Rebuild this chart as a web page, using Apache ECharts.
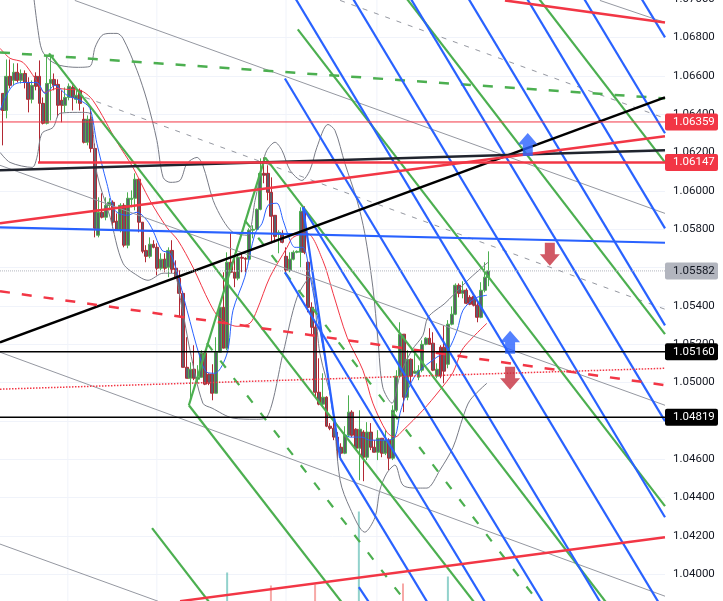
<!DOCTYPE html>
<html><head><meta charset="utf-8">
<style>html,body{margin:0;padding:0;background:#fff}#c{width:723px;height:601px}</style>
<script src="https://cdn.jsdelivr.net/npm/echarts@6/dist/echarts.min.js"></script>
</head><body><div id="c"></div>
<script>
// Candles: open, close, low, high, one row per bar
const candles = [
[1.06508,1.06419,1.06237,1.06508],[1.06419,1.06597,1.06378,1.06685],[1.06597,1.06550,1.06534,1.06685],[1.06576,1.06618,1.06550,1.06665],
[1.06618,1.06576,1.06565,1.06665],[1.06576,1.06612,1.06560,1.06633],[1.06612,1.06565,1.06534,1.06628],[1.06565,1.06477,1.06409,1.06592],
[1.06477,1.06550,1.06456,1.06576],[1.06597,1.06545,1.06524,1.06618],[1.06597,1.06456,1.06148,1.06680],[1.06456,1.06352,1.06346,1.06487],
[1.06352,1.06560,1.06346,1.06706],[1.06560,1.06581,1.06367,1.06706],[1.06581,1.06550,1.06524,1.06612],[1.06555,1.06446,1.06383,1.06581],
[1.06472,1.06446,1.06357,1.06524],[1.06446,1.06487,1.06409,1.06539],[1.06487,1.06545,1.06472,1.06560],[1.06539,1.06487,1.06419,1.06550],
[1.06477,1.06498,1.06456,1.06524],[1.06524,1.06456,1.06419,1.06534],[1.06373,1.06253,1.06247,1.06435],[1.06253,1.06373,1.06237,1.06393],
[1.06373,1.06221,1.06200,1.06435],[1.06221,1.05804,1.05757,1.06247],[1.05768,1.05888,1.05757,1.05966],[1.05888,1.05862,1.05856,1.05987],
[1.05862,1.05924,1.05846,1.05966],[1.05924,1.05940,1.05898,1.05961],[1.05940,1.05836,1.05804,1.05950],[1.05841,1.05794,1.05794,1.05882],
[1.05794,1.05924,1.05783,1.05935],[1.05924,1.05716,1.05705,1.05935],[1.05716,1.05961,1.05700,1.05992],[1.05955,1.05961,1.05914,1.06002],
[1.05961,1.06060,1.05898,1.06091],[1.06060,1.05836,1.05783,1.06065],[1.05836,1.05684,1.05674,1.05836],[1.05689,1.05658,1.05627,1.05716],
[1.05658,1.05721,1.05648,1.05757],[1.05721,1.05705,1.05700,1.05742],[1.05705,1.05596,1.05559,1.05726],[1.05596,1.05643,1.05585,1.05674],
[1.05643,1.05596,1.05575,1.05674],[1.05601,1.05689,1.05549,1.05705],[1.05689,1.05590,1.05570,1.05742],[1.05596,1.05544,1.05544,1.05637],
[1.05544,1.05465,1.05340,1.05585],[1.05465,1.05079,1.05079,1.05476],[1.05079,1.05022,1.05022,1.05236],[1.05022,1.05069,1.04907,1.05105],
[1.05069,1.05022,1.05012,1.05194],[1.05017,1.05027,1.04996,1.05090],[1.05027,1.05153,1.05027,1.05168],[1.05153,1.04991,1.04986,1.05158],
[1.05043,1.04996,1.04986,1.05048],[1.05043,1.04944,1.04907,1.05095],[1.04944,1.05158,1.04944,1.05236],[1.05158,1.05392,1.05158,1.05403],
[1.05392,1.05179,1.05179,1.05575],[1.05179,1.05627,1.05168,1.05679],[1.05627,1.05575,1.05575,1.05783],[1.05575,1.05544,1.05497,1.05653],
[1.05544,1.05653,1.05533,1.05674],[1.05653,1.05648,1.05575,1.05674],[1.05648,1.05643,1.05575,1.05653],[1.05643,1.05794,1.05637,1.05804],
[1.05794,1.05799,1.05752,1.05820],[1.05799,1.05903,1.05794,1.05908],[1.05903,1.06091,1.05898,1.06169],[1.06091,1.06081,1.06039,1.06174],
[1.06091,1.05992,1.05950,1.06133],[1.05992,1.05867,1.05726,1.06070],[1.05872,1.05762,1.05731,1.05872],[1.05778,1.05783,1.05674,1.05794],
[1.05778,1.05731,1.05726,1.05794],[1.05658,1.05585,1.05575,1.05705],[1.05585,1.05643,1.05575,1.05679],[1.05643,1.05679,1.05637,1.05689],
[1.05679,1.05684,1.05674,1.05689],[1.05679,1.05893,1.05601,1.05914],[1.05893,1.05679,1.05669,1.05919],[1.05627,1.05392,1.05366,1.05637],
[1.05392,1.05288,1.05246,1.05418],[1.05288,1.04949,1.04923,1.05309],[1.04949,1.04887,1.04881,1.05126],[1.04887,1.04923,1.04871,1.05048],
[1.04923,1.04772,1.04767,1.04928],[1.04772,1.04761,1.04751,1.04788],[1.04761,1.04715,1.04699,1.04793],[1.04715,1.04647,1.04595,1.04741],
[1.04662,1.04631,1.04595,1.04683],[1.04631,1.04725,1.04626,1.04772],[1.04725,1.04845,1.04715,1.04933],[1.04845,1.04725,1.04715,1.04855],
[1.04756,1.04657,1.04647,1.04761],[1.04657,1.04756,1.04490,1.04855],[1.04741,1.04610,1.04485,1.04751],[1.04610,1.04741,1.04595,1.04793],
[1.04741,1.04662,1.04647,1.04788],[1.04662,1.04636,1.04636,1.04699],[1.04636,1.04709,1.04595,1.04751],[1.04709,1.04631,1.04610,1.04709],
[1.04631,1.04699,1.04621,1.04751],[1.04699,1.04605,1.04542,1.04709],[1.04605,1.04855,1.04595,1.04881],[1.04855,1.05033,1.04845,1.05064],
[1.05033,1.05252,1.05027,1.05314],[1.05252,1.04923,1.04845,1.05252],[1.04923,1.05121,1.04907,1.05168],[1.05121,1.05033,1.04986,1.05126],
[1.05048,1.05059,1.05048,1.05153],[1.05027,1.05064,1.05012,1.05090],[1.05064,1.05199,1.05053,1.05220],[1.05199,1.05231,1.05194,1.05236],
[1.05231,1.05199,1.05199,1.05283],[1.05205,1.05064,1.05059,1.05262],[1.05033,1.05069,1.05022,1.05100],[1.05184,1.05033,1.05022,1.05194],
[1.05184,1.05059,1.04996,1.05298],[1.05095,1.05304,1.05074,1.05325],[1.05304,1.05356,1.05298,1.05397],[1.05356,1.05507,1.05351,1.05517],
[1.05507,1.05465,1.05444,1.05517],[1.05465,1.05481,1.05439,1.05528],[1.05481,1.05413,1.05408,1.05491],[1.05444,1.05408,1.05403,1.05455],
[1.05450,1.05403,1.05397,1.05460],[1.05403,1.05340,1.05314,1.05418],[1.05340,1.05481,1.05335,1.05523],[1.05481,1.05549,1.05470,1.05627],
[1.05549,1.05582,1.05502,1.05684]];

// Indicator curves: [bar, price]
const bandUpper = [[8.2,1.0705],[9.6,1.06837],[10.7,1.06732],[12.9,1.0668],[15.6,1.06654],[20.2,1.06644],[23.7,1.06649],[25.1,1.06748],[27,1.06811],[29.2,1.06821],[31.1,1.06821],[32.7,1.06795],[36.5,1.06628],[39.2,1.06472],[41.9,1.06263],[43.6,1.0607],[45.5,1.06044],[48.2,1.06054],[50.1,1.06143],[52.8,1.06174],[54.4,1.06133],[57.2,1.0595],[59.9,1.05846],[62.6,1.05783],[66.4,1.05768],[68.6,1.0595],[70.7,1.06143],[71.8,1.06211],[74,1.06253],[75.9,1.06211],[78.1,1.06107],[81.3,1.06054],[83.5,1.06107],[85.4,1.06227],[88.4,1.06346],[90.3,1.06315],[93,1.06143],[96.3,1.0595],[98.4,1.05778],[100.6,1.05497],[102,1.0522],[103.3,1.04975],[105.8,1.04892],[108,1.05038],[111.2,1.05168],[114.2,1.05246],[115.6,1.0534],[120.2,1.05413],[122.4,1.05455],[127,1.05544],[131.9,1.05627]];
const bandLower = [[-0.7,1.062],[2,1.06148],[8,1.06122],[9.3,1.06174],[10.7,1.063],[13.7,1.06331],[15.6,1.06404],[21,1.06409],[23.7,1.06404],[25.6,1.06091],[29.2,1.05862],[32.7,1.05622],[37.3,1.05549],[39.5,1.05533],[43.6,1.0557],[46.3,1.0557],[48.7,1.05392],[50.9,1.05168],[54.4,1.04892],[56.9,1.04866],[62.6,1.04814],[68.6,1.04808],[71.8,1.04819],[76.2,1.05153],[80,1.05444],[83.5,1.05549],[86.2,1.05153],[89.5,1.04892],[91.7,1.0449],[94.4,1.04344],[98.4,1.04219],[101.2,1.04297],[102.5,1.04438],[104.4,1.04527],[106.6,1.04569],[108.8,1.04464],[112.9,1.04449],[115.3,1.04449],[118.8,1.04542],[122.4,1.04662],[125.1,1.04819],[127,1.04907],[131.6,1.04996]];
const maSlow = [[-0.7,1.06743],[2,1.06691],[5.5,1.0667],[8.8,1.06586],[11.5,1.06513],[14.8,1.06534],[17.5,1.06529],[21,1.06524],[24.5,1.06472],[31.1,1.06253],[35.4,1.06122],[40,1.0595],[44.6,1.05809],[47.6,1.05742],[51.7,1.05601],[56.3,1.05413],[59,1.05335],[63.7,1.05293],[67.2,1.05309],[69.1,1.05377],[72.6,1.05549],[77.3,1.05705],[78.9,1.05757],[82.7,1.05778],[87,1.05637],[89.8,1.05465],[93.6,1.05236],[97.9,1.05064],[100.6,1.04892],[104.4,1.04741],[106.6,1.04715],[108.8,1.04751],[114.2,1.04855],[118.8,1.0496],[122.4,1.05053],[124.8,1.05168],[127,1.0522],[131.6,1.05309]];
const maFast = [[-0.7,1.06419],[0.6,1.06482],[2.8,1.0655],[5.2,1.06565],[9.3,1.06565],[11.5,1.06508],[14.2,1.0655],[17.5,1.06498],[21,1.06472],[23.7,1.0643],[25.6,1.06247],[28.3,1.06039],[30.5,1.05898],[33.8,1.05872],[36.5,1.05888],[39.2,1.05846],[40.8,1.05794],[43.3,1.05689],[45.5,1.05674],[47.6,1.05559],[50.1,1.05377],[53.6,1.05132],[55.5,1.05053],[57.7,1.05048],[61,1.05153],[62.6,1.05377],[65.8,1.05549],[68.6,1.05778],[70.5,1.0583],[72.1,1.05924],[74.5,1.05935],[76.2,1.05846],[78.1,1.05742],[79.4,1.05705],[81.6,1.05705],[83.5,1.05559],[86.2,1.05272],[88.4,1.05038],[90.3,1.04803],[94.4,1.04715],[97.6,1.04715],[99.8,1.04699],[104.4,1.04699],[106.6,1.04715],[108,1.0484],[110.1,1.0496],[112.6,1.05048],[118,1.05132],[121,1.05168],[123.5,1.05272],[125.1,1.05377],[128.3,1.05439],[131.6,1.05455]];

// Drawn trend lines: [bar, price, bar, price]
const blueRays = [[172.1,1.0705,180,1.068],[156.5,1.0705,180,1.063],[141,1.0705,180,1.05804],[125.1,1.0705,180,1.05298],[109.4,1.0705,180,1.04798],[93.7,1.0705,180,1.04297],[78.1,1.0705,180,1.03797],[76.7,1.06586,164.1,1.038],[81.6,1.05914,148.5,1.038],[76.7,1.05575,132.8,1.038],[91.7,1.04605,117.1,1.038],[96.8,1.03932,101.4,1.038],[81.6,1.05914,91.7,1.04605],[-0.73,1.05809,180,1.05729]];
const greenRays = [[143.8,1.0705,180,1.06148],[107.9,1.0705,180,1.05252],[80.2,1.06842,180,1.04355],[71.3,1.06174,166.1,1.038],[12.6,1.06717,130.3,1.038],[50.6,1.04881,94.3,1.038],[40.6,1.0424,58.3,1.038],[50.6,1.04881,71.3,1.06174]];
const greenDashed = [[55.5,1.05205,111.8,1.038],[65.8,1.05846,147.8,1.038]];
const greenLongDashed = [[-0.73,1.06722,180,1.06482]];
const blackLine = [[-0.73,1.0521,180,1.06487]];
const darkLine = [[-0.73,1.06107,180,1.06211]];
const redLines = [[-0.73,1.0583,180,1.06284],[48.2,1.03859,180,1.04193],[136.5,1.06993,180,1.06878]];
const redDashed = [[-0.73,1.05476,180,1.04986]];
const redDotted = [[-0.73,1.04965,180,1.05074]];
const greyLines = [[-0.73,1.06133,180,1.04881],[-0.73,1.05158,180,1.03885],[-0.73,1.04157,42.2,1.03859],[19.6,1.06993,180,1.05882],[162.3,1.06993,180,1.06878]];
const greyDashed = [[22.4,1.06487,180,1.05382],[91.7,1.06993,180,1.06378]];

// Price levels with right-axis tags
const levels = [
  {price:1.06359,startBar:-0.73,color:'#f23645',text:'#fff',width:1,type:'solid'},
  {price:1.06147,startBar:9.6,color:'#f23645',text:'#fff',width:2.5,type:'solid'},
  {price:1.05582,startBar:-0.73,color:'#b2b5be',text:'#131722',width:1,type:'dotted'},
  {price:1.0516,startBar:-0.73,color:'#000000',text:'#fff',width:1.5,type:'solid'},
  {price:1.04819,startBar:-0.73,color:'#000000',text:'#fff',width:1.5,type:'solid'}
];
const arrowsUp = [[142.7,1.06242],[137.9,1.0521]];
const arrowsDown = [[148.7,1.05669],[137.9,1.05022]];
const volumeUp = [[61,40],[96.8,101],[121,36]];
const volumeDown = [[72.9,27],[84.9,28],[108.8,29]];
const gridBars = [17.7,41.9,77,101.7];
const hiddenTicks = ['1.05600'];

const FONT = 'Roboto';
const BARS_MAX = 180;
const arrowPath = 'path://M10 0 L20 11 L15 11 L15 22 L5 22 L5 11 L0 11 Z';

function lineSeries(data, color, width, type, z, smooth){
  return {type:'line', data, symbol:'none', silent:true, animation:false, smooth:smooth||false, z:z||3,
    lineStyle:{color, width, type:type||'solid', cap:'butt'}};
}
function segs(list, color, width, type, z){
  return list.map(r => lineSeries([[r[0],r[1]],[r[2],r[3]]], color, width, type, z));
}

const series = [];
gridBars.forEach(b => series.push(lineSeries([[b,1.038],[b,1.0705]],'#f0f3fa',1,'solid',1)));
series.push({type:'candlestick', animation:false, silent:true, z:2, barWidth:3.4,
  data:candles.map((c,i)=>[i,c[0],c[1],c[2],c[3]]), encode:{x:0,y:[1,2,3,4]},
  itemStyle:{color:'#5d5f6a',color0:'#5d5f6a',borderColor:'#4caf50',borderColor0:'#b22833',borderWidth:1}});
series.push(lineSeries(bandUpper,'#787b86',1,'solid',3,0.3));
series.push(lineSeries(bandLower,'#787b86',1,'solid',3,0.3));
series.push(lineSeries(maSlow,'#f23645',1,'solid',3,0.3));
series.push(lineSeries(maFast,'#2962ff',1,'solid',3,0.3));
series.push(...segs(greyLines,'#9598a1',1));
series.push(...segs(greyDashed,'#9598a1',1,[5,7]));
series.push(...segs(greenRays,'#4caf50',2.2));
series.push(...segs(greenDashed,'#4caf50',2.2,[9,13]));
series.push(...segs(greenLongDashed,'#4caf50',2.5,[10,12]));
series.push(...segs(blueRays,'#2962ff',2.2));
series.push(...segs(blackLine,'#000000',2.5));
series.push(...segs(darkLine,'#20242e',2.5));
series.push(...segs(redLines,'#f23645',2.5));
series.push(...segs(redDashed,'#f23645',2.5,[10,12]));
series.push(...segs(redDotted,'#f23645',1.5,'dotted'));
levels.forEach(l=>{
  const s = lineSeries([[l.startBar,l.price],[BARS_MAX,l.price]], l.color, l.width, l.type, 4);
  s.endLabel = {show:true, formatter:l.price.toFixed(5), distance:0, color:l.text, backgroundColor:l.color,
    fontFamily:FONT, fontSize:11.5, width:45, height:17, lineHeight:17, padding:[0,0,0,8], align:'left', verticalAlign:'middle', borderRadius:2};
  series.push(s);
});
series.push({type:'scatter', data:arrowsUp, symbol:arrowPath, symbolSize:[20,23], silent:true, animation:false, z:5,
  itemStyle:{color:'#2962ff'}});
series.push({type:'scatter', data:arrowsDown, symbol:arrowPath, symbolSize:[20,23], symbolRotate:180, silent:true, animation:false, z:5,
  itemStyle:{color:'#c62f3f'}});
series.push({type:'bar', yAxisIndex:1, barWidth:2, silent:true, animation:false, z:1,
  data:volumeUp.map(v=>({value:v,itemStyle:{color:'rgba(38,166,154,0.5)'}}))
    .concat(volumeDown.map(v=>({value:v,itemStyle:{color:'rgba(239,83,80,0.5)'}})))});

const chart = echarts.init(document.getElementById('c'), null, {renderer:'canvas'});
chart.setOption({
  animation:false, backgroundColor:'#fff',
  grid:{left:0,right:58,top:-10.5,bottom:-11.5,containLabel:false,outerBoundsMode:'none'},
  xAxis:{type:'value',min:-0.73,max:BARS_MAX,show:false},
  yAxis:[
    {type:'value',position:'right',min:1.038,max:1.0705,interval:0.002,scale:true,
     axisLine:{show:false},axisTick:{show:false},
     splitLine:{show:true,lineStyle:{color:'#f0f3fa',width:1}},
     axisLabel:{show:true,color:'#131722',fontFamily:FONT,fontSize:11.5,margin:8,padding:[2,0,0,0],hideOverlap:false,showMinLabel:true,showMaxLabel:false,
       formatter:v=>{const s=v.toFixed(5);return hiddenTicks.includes(s)?'':s;}}},
    {type:'value',min:0,max:623,show:false}
  ],
  series
});
</script></body></html>
